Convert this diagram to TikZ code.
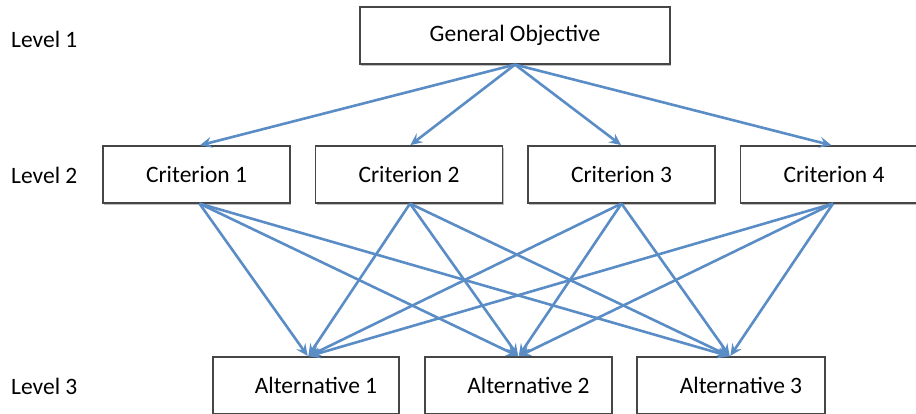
\documentclass[tikz,border=0pt]{standalone}
\usepackage{fontspec}
\setmainfont{Carlito}
\usetikzlibrary{arrows.meta,shadows}
\definecolor{arrowblue}{RGB}{90,140,198}
\definecolor{boxgray}{RGB}{70,70,70}
\begin{document}
\begin{tikzpicture}[x=1pt,y=-1pt,
  box/.style={draw=boxgray,line width=1.2pt,fill=white,rectangle,minimum height=57pt,inner sep=0pt,
    drop shadow={shadow xshift=1.2pt,shadow yshift=-1.5pt,opacity=0.25,fill=black}},
  lvl/.style={anchor=west,inner sep=0pt},
  arr/.style={draw=arrowblue,line width=2.6pt,-{Stealth[length=12pt,width=11pt,inset=4.5pt]},shorten >=0.5pt}
  ]
\useasboundingbox (0,0) rectangle (916,413);
\clip (0,0) rectangle (916,413);
\fontsize{23.5}{28}\selectfont
\node[lvl] (l1) at (11,39) {Level 1};
\node[lvl] (l2) at (11,175) {Level 2};
\node[lvl] (l3) at (11,386) {Level 3};

\node[box,minimum width=310pt] (go) at (515,35.5) {General Objective};

\node[box,minimum width=187pt] (c1) at (196.5,174.5) {Criterion 1};
\node[box,minimum width=187pt] (c2) at (409,174.5) {Criterion 2};
\node[box,minimum width=187pt] (c3) at (621.5,174.5) {Criterion 3};
\node[box,minimum width=187pt] (c4) at (834,174.5) {Criterion 4};

\node[box,minimum width=186pt] (a1) at (306,385.5) {\hspace*{20pt}Alternative 1};
\node[box,minimum width=187pt] (a2) at (518.5,385.5) {\hspace*{20pt}Alternative 2};
\node[box,minimum width=188pt] (a3) at (731,385.5) {\hspace*{20pt}Alternative 3};

\foreach \c/\dx in {c1/3,c2/1,c3/0,c4/-2}{
  \draw[arr] (go.south) -- ([xshift=\dx pt]\c.north);
}
\foreach \c/\dx in {c1/3,c2/1,c3/0,c4/-1}{
  \foreach \a/\ax in {a1/2,a2/0,a3/-1}{
    \draw[arr] ([xshift=\dx pt]\c.south) -- ([xshift=\ax pt]\a.north);
  }
}
\end{tikzpicture}
\end{document}
